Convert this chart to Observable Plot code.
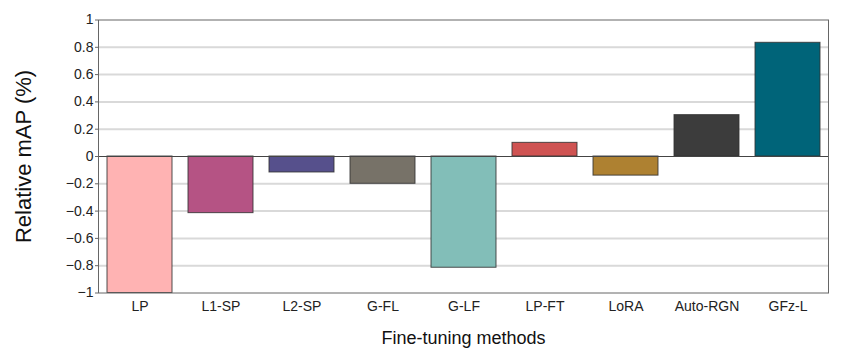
<!DOCTYPE html>
<html>
<head>
<meta charset="utf-8">
<script src="https://cdn.jsdelivr.net/npm/d3@7"></script>
<script src="https://cdn.jsdelivr.net/npm/@observablehq/plot@0.6"></script>
<style>
  html, body { margin: 0; padding: 0; background: #fff; }
  svg { font-family: "Liberation Sans", Arial, sans-serif; }
</style>
</head>
<body>
<div id="chart"></div>
<script>
const methods = ["LP", "L1-SP", "L2-SP", "G-FL", "G-LF", "LP-FT", "LoRA", "Auto-RGN", "GFz-L"];
const values = [-1.0, -0.415, -0.117, -0.20, -0.815, 0.10, -0.14, 0.303, 0.833];
const colors = ["#FFB3B3", "#B55384", "#56508C", "#777268", "#82BEB8", "#CF5352", "#AE8131", "#3C3C3C", "#006479"];
const yTicks = [-1, -0.8, -0.6, -0.4, -0.2, 0, 0.2, 0.4, 0.6, 0.8, 1];
const yLabel = "Relative mAP (%)";
const xLabel = "Fine-tuning methods";

const data = methods.map((m, i) => ({method: m, value: values[i]}));
const fmt = v => String(v).replace("-", "\u2212");

const chart = Plot.plot({
  width: 848,
  height: 364,
  marginLeft: 98,
  marginRight: 20,
  marginTop: 19.5,
  marginBottom: 71.5,
  style: {fontFamily: "Liberation Sans, Arial, sans-serif", fontSize: "14px", color: "#222"},
  x: {domain: methods, paddingInner: 0.2, paddingOuter: 0.1, label: null},
  y: {domain: [-1, 1], label: null},
  color: {domain: methods, range: colors},
  marks: [
    Plot.ruleY(yTicks.filter(t => t !== 0 && t !== 1 && t !== -1), {stroke: "#d9d9d9", strokeWidth: 2}),
    Plot.barY(data, {x: "method", y: "value", fill: "method", stroke: "#333", strokeWidth: 1, strokeOpacity: 0.85}),
    Plot.ruleY([0], {stroke: "#444", strokeWidth: 1}),
    Plot.frame({stroke: "#666", strokeWidth: 1}),
    Plot.axisY({ticks: yTicks, tickFormat: fmt, tickSize: 3, tickPadding: 2, label: null, fontSize: 14, stroke: "#666"}),
    Plot.axisX({tickSize: 0, tickPadding: 8, label: null, fontSize: 14}),
    Plot.text([yLabel], {text: d => d, frameAnchor: "left", textAnchor: "middle", dx: -75, rotate: -90, fontSize: 22, fill: "#111"}),
    Plot.text([xLabel], {text: d => d, frameAnchor: "bottom", dy: 51, fontSize: 18, fill: "#111"})
  ]
});
document.getElementById("chart").appendChild(chart);
</script>
</body>
</html>
